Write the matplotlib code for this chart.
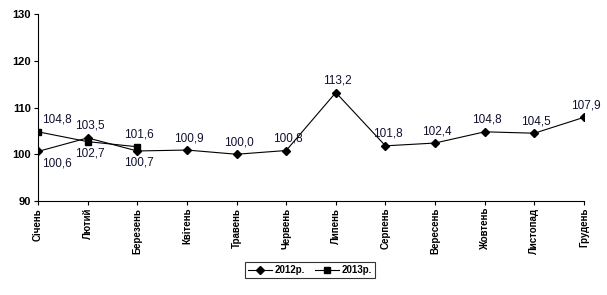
import numpy as np
import matplotlib.pyplot as plt

plt.rcParams['font.family'] = ['Liberation Sans', 'DejaVu Sans']

months = ['Січень', 'Лютий', 'Березень', 'Квітень', 'Травень', 'Червень',
          'Липень', 'Серпень', 'Вересень', 'Жовтень', 'Листопад', 'Грудень']
y2012 = [100.6, 103.5, 100.7, 100.9, 100.0, 100.8, 113.2, 101.8, 102.4, 104.8, 104.5, 107.9]
y2013 = [104.8, 102.7, 101.6]

# label placement: (dx, dy) in pixels
off2012 = [(19, -12), (2, 12), (2, -12)] + [(2, 12)] * 9
off2013 = [(19, 12), (2, -12), (2, 12)]

fig = plt.figure(figsize=(6.07, 2.95), dpi=100)
ax = fig.add_axes([38/607, 1-201/295, (584-38)/607, (201-14)/295])

x = np.arange(len(months))
l1, = ax.plot(x, y2012, color='black', lw=0.8, marker='D', ms=4.5, label='2012р.')
l2, = ax.plot(x[:len(y2013)], y2013, color='black', lw=0.8, marker='s', ms=4.5, label='2013р.')

for xi, yi, o in zip(x, y2012, off2012):
    ax.annotate(f'{yi:.1f}'.replace('.', ','), (xi, yi), xytext=o, textcoords='offset pixels',
                ha='center', va='center', fontsize=8.5, color='#101030')
for xi, yi, o in zip(x, y2013, off2013):
    ax.annotate(f'{yi:.1f}'.replace('.', ','), (xi, yi), xytext=o, textcoords='offset pixels',
                ha='center', va='center', fontsize=8.5, color='#101030')

ax.set_xlim(0, 11)
ax.set_ylim(90, 130)
ax.set_yticks([90, 100, 110, 120, 130])
ax.set_xticks(x)
ax.set_xticklabels(months, rotation=90, fontsize=7, fontweight='bold')
for lab in ax.get_yticklabels():
    lab.set_fontweight('bold')
    lab.set_fontsize(8)
ax.tick_params(direction='out', length=3, width=0.8, pad=2)
ax.spines['top'].set_visible(False)
ax.spines['right'].set_visible(False)
ax.spines['left'].set_linewidth(0.8)
ax.spines['bottom'].set_linewidth(0.8)

leg = fig.legend(handles=[l1, l2], loc='center', bbox_to_anchor=(310/607, 1-270/295), ncol=2,
                 frameon=True, fancybox=False, edgecolor='black',
                 prop={'weight': 'bold', 'size': 7}, handlelength=2.5, columnspacing=1.0,
                 borderpad=0.3, handletextpad=0.3)
leg.get_frame().set_linewidth(0.8)

plt.savefig('out.png', dpi=100)
